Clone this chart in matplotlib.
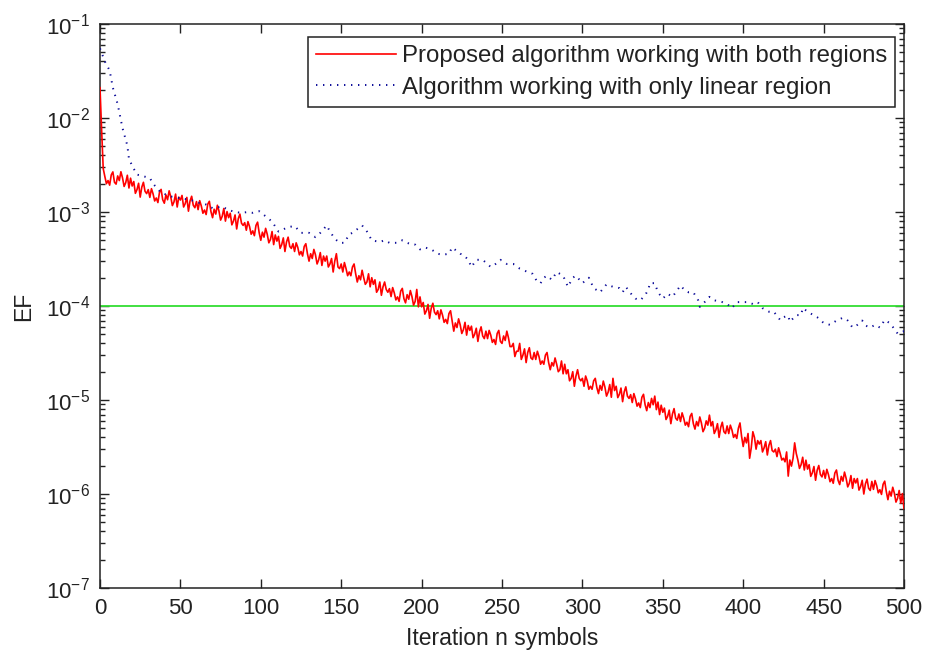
import numpy as np
import matplotlib
matplotlib.use("Agg")
import matplotlib.pyplot as plt
from matplotlib.ticker import LogLocator, NullFormatter, FixedLocator

plt.rcParams['font.family'] = ['Liberation Sans', 'DejaVu Sans']
plt.rcParams['mathtext.fontset'] = 'custom'
plt.rcParams['mathtext.rm'] = 'Liberation Sans'
plt.rcParams['mathtext.it'] = 'Liberation Sans'
plt.rcParams['mathtext.bf'] = 'Liberation Sans'

# ---------------- data ----------------
red_label = "Proposed algorithm working with both regions"
blue_label = "Algorithm working with only linear region"
x_label = "Iteration n symbols"
y_label = "EF"

# red: one value per iteration 0..500
red_y = [
    2.1e-2, 7.5e-3, 2.9e-3, 2.39e-3, 2.0e-3, 2.16e-3, 1.93e-3, 2.48e-3, 2.67e-3, 2.07e-3,
    1.98e-3, 2.42e-3, 2.16e-3, 2.68e-3, 2.31e-3, 1.87e-3, 2.05e-3, 2.46e-3, 1.80e-3, 2.29e-3,
    1.89e-3, 2.11e-3, 1.58e-3, 1.73e-3, 2.02e-3, 1.44e-3, 1.84e-3, 2.07e-3, 1.66e-3, 1.57e-3,
    1.73e-3, 1.43e-3, 1.77e-3, 1.56e-3, 1.31e-3, 1.41e-3, 1.26e-3, 1.62e-3, 1.74e-3, 1.35e-3,
    1.24e-3, 1.52e-3, 1.35e-3, 1.68e-3, 1.45e-3, 1.17e-3, 1.28e-3, 1.55e-3, 1.13e-3, 1.44e-3,
    1.34e-3, 1.50e-3, 1.13e-3, 1.23e-3, 1.43e-3, 1.02e-3, 1.31e-3, 1.47e-3, 1.18e-3, 1.11e-3,
    1.29e-3, 1.06e-3, 1.32e-3, 1.16e-3, 0.97e-3, 1.05e-3, 0.94e-3, 1.21e-3, 1.30e-3, 1.01e-3,
    0.87e-3, 1.07e-3, 0.95e-3, 1.18e-3, 1.02e-3, 0.82e-3, 0.90e-3, 1.09e-3, 0.80e-3, 1.01e-3,
    0.87e-3, 0.97e-3, 0.73e-3, 0.80e-3, 0.93e-3, 0.66e-3, 0.85e-3, 0.95e-3, 0.76e-3, 0.72e-3,
    0.77e-3, 0.64e-3, 0.79e-3, 0.70e-3, 0.58e-3, 0.63e-3, 0.56e-3, 0.72e-3, 0.78e-3, 0.60e-3,
    0.50e-3, 0.61e-3, 0.54e-3, 0.67e-3, 0.58e-3, 0.47e-3, 0.51e-3, 0.62e-3, 0.45e-3, 0.57e-3,
    0.49e-3, 0.55e-3, 0.41e-3, 0.45e-3, 0.53e-3, 0.38e-3, 0.48e-3, 0.54e-3, 0.43e-3, 0.41e-3,
    0.46e-3, 0.38e-3, 0.47e-3, 0.42e-3, 0.35e-3, 0.38e-3, 0.34e-3, 0.43e-3, 0.46e-3, 0.36e-3,
    0.30e-3, 0.36e-3, 0.32e-3, 0.40e-3, 0.35e-3, 0.28e-3, 0.31e-3, 0.37e-3, 0.27e-3, 0.34e-3,
    0.30e-3, 0.34e-3, 0.26e-3, 0.28e-3, 0.32e-3, 0.23e-3, 0.30e-3, 0.36e-3, 0.26e-3, 0.25e-3,
    0.28e-3, 0.23e-3, 0.29e-3, 0.25e-3, 0.21e-3, 0.23e-3, 0.21e-3, 0.26e-3, 0.28e-3, 0.22e-3,
    0.18e-3, 0.21e-3, 0.19e-3, 0.24e-3, 0.20e-3, 0.17e-3, 0.18e-3, 0.22e-3, 0.16e-3, 0.20e-3,
    0.17e-3, 0.19e-3, 0.14e-3, 0.15e-3, 0.18e-3, 0.13e-3, 0.16e-3, 0.18e-3, 0.15e-3, 0.14e-3,
    0.153e-3, 0.126e-3, 0.157e-3, 0.138e-3, 0.116e-3, 0.125e-3, 0.112e-3, 0.144e-3, 0.154e-3, 0.12e-3,
    0.108e-3, 0.132e-3, 0.118e-3, 0.146e-3, 0.126e-3, 0.102e-3, 0.112e-3, 0.15e-3, 0.098e-3, 0.125e-3,
    9.8e-5, 10.9e-5, 8.2e-5, 8.9e-5, 10.4e-5, 7.4e-5, 9.5e-5, 10.7e-5, 8.6e-5, 8.1e-5,
    8.9e-5, 7.3e-5, 9.1e-5, 8.0e-5, 6.7e-5, 7.2e-5, 6.5e-5, 8.3e-5, 8.9e-5, 6.9e-5,
    5.4e-5, 6.6e-5, 5.9e-5, 7.3e-5, 6.3e-5, 5.1e-5, 5.6e-5, 6.7e-5, 4.9e-5, 6.2e-5,
    5.5e-5, 6.1e-5, 4.6e-5, 5.0e-5, 5.8e-5, 4.2e-5, 5.3e-5, 6.0e-5, 4.8e-5, 4.5e-5,
    5.4e-5, 4.5e-5, 5.5e-5, 4.9e-5, 4.1e-5, 4.4e-5, 3.9e-5, 5.1e-5, 5.5e-5, 4.2e-5,
    4.0e-5, 4.8e-5, 4.3e-5, 5.4e-5, 4.6e-5, 3.7e-5, 3.7e-5, 4.0e-5, 2.9e-5, 3.3e-5,
    3.3e-5, 4.0e-5, 2.7e-5, 3.0e-5, 3.5e-5, 2.5e-5, 3.2e-5, 3.6e-5, 2.8e-5, 2.7e-5,
    3.2e-5, 2.7e-5, 3.3e-5, 2.9e-5, 2.4e-5, 2.6e-5, 2.4e-5, 3.0e-5, 3.2e-5, 2.5e-5,
    2.1e-5, 2.5e-5, 2.3e-5, 2.8e-5, 2.4e-5, 2.0e-5, 2.1e-5, 2.6e-5, 1.9e-5, 2.4e-5,
    1.9e-5, 2.1e-5, 1.6e-5, 1.7e-5, 2.0e-5, 1.4e-5, 1.8e-5, 2.1e-5, 1.7e-5, 1.6e-5,
    1.7e-5, 1.4e-5, 1.8e-5, 1.6e-5, 1.3e-5, 1.4e-5, 1.3e-5, 1.6e-5, 1.7e-5, 1.35e-5,
    1.17e-5, 1.43e-5, 1.27e-5, 1.59e-5, 1.37e-5, 1.1e-5, 1.21e-5, 1.46e-5, 1.07e-5, 1.7e-5,
    1.26e-5, 1.4e-5, 1.06e-5, 1.15e-5, 1.34e-5, 0.96e-5, 1.22e-5, 1.38e-5, 1.1e-5, 1.04e-5,
    1.14e-5, 0.94e-5, 1.17e-5, 1.03e-5, 0.86e-5, 0.93e-5, 0.83e-5, 1.07e-5, 1.15e-5, 0.89e-5,
    7.7e-6, 9.4e-6, 8.3e-6, 10.4e-6, 8.9e-6, 11.0e-6, 7.9e-6, 9.5e-6, 7.0e-6, 8.8e-6,
    7.4e-6, 8.2e-6, 6.2e-6, 6.7e-6, 7.8e-6, 5.6e-6, 7.1e-6, 8.1e-6, 6.4e-6, 6.1e-6,
    7.1e-6, 5.9e-6, 7.3e-6, 6.4e-6, 5.4e-6, 5.8e-6, 5.2e-6, 6.7e-6, 7.2e-6, 5.6e-6,
    4.9e-6, 5.9e-6, 5.3e-6, 6.6e-6, 5.7e-6, 4.6e-6, 5.0e-6, 6.0e-6, 5.4e-6, 6.9e-6,
    5.3e-6, 5.9e-6, 4.4e-6, 4.8e-6, 5.6e-6, 4.0e-6, 5.1e-6, 5.8e-6, 4.6e-6, 4.4e-6,
    5.3e-6, 4.4e-6, 5.4e-6, 4.8e-6, 4.0e-6, 4.3e-6, 3.9e-6, 5.0e-6, 5.7e-6, 4.1e-6,
    3.2e-6, 4.0e-6, 3.5e-6, 4.4e-6, 2.4e-6, 3.1e-6, 4.6e-6, 4.0e-6, 3.0e-6, 3.7e-6,
    3.4e-6, 3.7e-6, 2.8e-6, 3.1e-6, 3.6e-6, 2.6e-6, 3.3e-6, 3.7e-6, 2.9e-6, 2.8e-6,
    3.0e-6, 2.5e-6, 3.1e-6, 2.7e-6, 2.3e-6, 2.4e-6, 2.2e-6, 2.8e-6, 1.55e-6, 2.3e-6,
    1.98e-6, 2.4e-6, 3.5e-6, 2.7e-6, 2.3e-6, 1.87e-6, 2.05e-6, 2.46e-6, 1.8e-6, 2.29e-6,
    1.84e-6, 2.05e-6, 1.54e-6, 1.68e-6, 1.96e-6, 1.4e-6, 1.79e-6, 2.01e-6, 1.61e-6, 1.52e-6,
    1.78e-6, 1.47e-6, 1.83e-6, 1.61e-6, 1.35e-6, 1.46e-6, 1.3e-6, 1.67e-6, 1.8e-6, 1.4e-6,
    1.26e-6, 1.54e-6, 1.37e-6, 1.71e-6, 1.47e-6, 1.19e-6, 1.3e-6, 1.57e-6, 1.15e-6, 1.46e-6,
    1.31e-6, 1.46e-6, 1.1e-6, 1.2e-6, 1.4e-6, 1.0e-6, 1.28e-6, 1.44e-6, 1.15e-6, 1.09e-6,
    1.36e-6, 1.12e-6, 1.39e-6, 1.23e-6, 1.03e-6, 1.11e-6, 0.99e-6, 1.27e-6, 1.37e-6, 1.06e-6,
    0.87e-6, 1.07e-6, 0.95e-6, 1.18e-6, 1.02e-6, 0.82e-6, 0.9e-6, 1.09e-6, 0.8e-6, 1.01e-6,
    0.7e-6,
]
red_x = np.arange(len(red_y))

blue_x = [
    0, 3, 6, 8, 11, 12, 14, 17, 18, 20,
    23, 27, 31, 33, 38, 45, 50, 56, 61, 66,
    70, 73, 76, 80, 84, 88, 92, 95, 99, 103,
    107, 111, 117, 121, 125, 130, 134, 137, 141, 143,
    146, 149, 152, 155, 157, 163, 166, 169, 174, 177,
    180, 185, 188, 191, 194, 196, 199, 202, 206, 210,
    213, 217, 219, 224, 226, 229, 231, 234, 238, 243,
    246, 249, 253, 257, 261, 266, 269, 272, 274, 276,
    278, 281, 284, 288, 291, 294, 296, 300, 304, 307,
    311, 315, 319, 323, 325, 327, 331, 333, 336, 339,
    341, 342, 345, 347, 350, 353, 356, 361, 364, 366,
    369, 372, 373, 376, 379, 382, 387, 390, 393, 396,
    400, 403, 406, 409, 412, 416, 419, 423, 424, 428,
    429, 433, 436, 437, 441, 446, 448, 450, 454, 458,
    462, 465, 468, 471, 474, 476, 479, 482, 485, 488,
    491, 493, 496, 500,
]
blue_y = [
    5.5e-2, 4.0e-2, 3.2e-2, 2.1e-2, 1.4e-2, 1.15e-2, 7.8e-3, 5.1e-3, 3.7e-3, 3.1e-3,
    2.5e-3, 2.4e-3, 2.3e-3, 2.0e-3, 1.6e-3, 1.45e-3, 1.4e-3, 1.35e-3, 1.26e-3, 1.2e-3,
    1.1e-3, 1.12e-3, 1.14e-3, 1.05e-3, 1.0e-3, 9.8e-4, 1.0e-3, 9.8e-4, 1.02e-3, 9.0e-4,
    7.9e-4, 6.2e-4, 6.9e-4, 7.1e-4, 6.0e-4, 6.0e-4, 5.4e-4, 6.0e-4, 7.2e-4, 6.2e-4,
    5.2e-4, 4.7e-4, 4.7e-4, 5.8e-4, 6.0e-4, 7.2e-4, 6.2e-4, 5.0e-4, 4.8e-4, 5.0e-4,
    4.7e-4, 4.7e-4, 5.0e-4, 4.7e-4, 4.5e-4, 4.5e-4, 4.0e-4, 4.2e-4, 4.0e-4, 3.6e-4,
    3.5e-4, 3.6e-4, 4.2e-4, 3.6e-4, 3.5e-4, 3.1e-4, 2.6e-4, 3.1e-4, 3.1e-4, 2.6e-4,
    2.8e-4, 3.1e-4, 2.8e-4, 2.8e-4, 2.5e-4, 2.3e-4, 2.2e-4, 1.8e-4, 1.75e-4, 2.0e-4,
    2.1e-4, 1.9e-4, 2.3e-4, 2.1e-4, 1.6e-4, 2.0e-4, 2.1e-4, 1.75e-4, 2.0e-4, 1.55e-4,
    1.4e-4, 1.7e-4, 1.6e-4, 1.55e-4, 1.4e-4, 1.6e-4, 1.3e-4, 1.2e-4, 1.15e-4, 1.3e-4,
    1.5e-4, 1.75e-4, 1.75e-4, 1.4e-4, 1.2e-4, 1.35e-4, 1.25e-4, 1.65e-4, 1.45e-4, 1.4e-4,
    1.4e-4, 1.15e-4, 9.8e-5, 1.1e-4, 1.25e-4, 1.15e-4, 1.1e-4, 1.05e-4, 9.5e-5, 1.1e-4,
    1.1e-4, 1.1e-4, 1.05e-4, 1.1e-4, 9.5e-5, 8.7e-5, 8.7e-5, 7.1e-5, 7.5e-5, 7.9e-5,
    6.8e-5, 8.0e-5, 8.0e-5, 9.5e-5, 8.5e-5, 7.6e-5, 7.1e-5, 6.6e-5, 6.3e-5, 7.0e-5,
    7.5e-5, 7.0e-5, 5.9e-5, 6.3e-5, 7.0e-5, 6.2e-5, 5.9e-5, 6.3e-5, 5.9e-5, 7.1e-5,
    6.6e-5, 6.0e-5, 5.1e-5, 5.4e-5,
]

threshold = 1e-4
x_ticks = [0, 50, 100, 150, 200, 250, 300, 350, 400, 450, 500]
y_decades = [1e-7, 1e-6, 1e-5, 1e-4, 1e-3, 1e-2, 1e-1]
y_tick_labels = [r'$\mathregular{10^{-7}}$', r'$\mathregular{10^{-6}}$', r'$\mathregular{10^{-5}}$',
                 r'$\mathregular{10^{-4}}$', r'$\mathregular{10^{-3}}$', r'$\mathregular{10^{-2}}$',
                 r'$\mathregular{10^{-1}}$']

# ---------------- figure ----------------
fig = plt.figure(figsize=(9.28, 6.53), dpi=100)
ax = fig.add_axes([100/928, 1 - 588/653, 804/928, 564/653])

ax.plot(red_x, red_y, color=(1, 0, 0), lw=1.2, label=red_label, zorder=3)
ax.plot(blue_x, blue_y, color=(0.05, 0.05, 0.6), lw=1.4, linestyle=(0, (0.7, 2.9)),
        label=blue_label, zorder=4)
ax.axhline(threshold, color='#33dd33', lw=1.3, zorder=2)

ax.set_yscale('log')
ax.set_xlim(0, 500)
ax.set_ylim(1e-7, 1e-1)
ax.xaxis.set_major_locator(FixedLocator(x_ticks))
ax.yaxis.set_major_locator(FixedLocator(y_decades))
ax.set_yticklabels(y_tick_labels)
ax.yaxis.set_minor_locator(LogLocator(base=10, subs=np.arange(2, 10), numticks=20))
ax.yaxis.set_minor_formatter(NullFormatter())

ax.tick_params(which='both', direction='in', top=True, right=True, colors='#222222')
ax.tick_params(which='major', length=6.5, width=1.0, labelsize=16, labelcolor='#222222')
ax.tick_params(axis='x', which='major', pad=7)
ax.tick_params(axis='y', which='major', pad=7)
ax.tick_params(which='minor', length=3.5, width=1.0)
for s in ax.spines.values():
    s.set_color('#222222')
    s.set_linewidth(1.1)

ax.set_xlabel(x_label, fontsize=16.5, color='#222222', labelpad=6)
ax.set_ylabel(y_label, fontsize=16.5, color='#222222', labelpad=8)

leg = ax.legend(loc='upper right', bbox_to_anchor=(0.9888, 0.977), borderaxespad=0,
                fontsize=17.3, frameon=True, fancybox=False, framealpha=1,
                edgecolor='#222222', handlelength=3.3, handletextpad=0.25,
                labelspacing=0.4, borderpad=0.34)
leg.get_frame().set_linewidth(1.1)
for t in leg.get_texts():
    t.set_color('#222222')

fig.savefig('out.png', dpi=100)
